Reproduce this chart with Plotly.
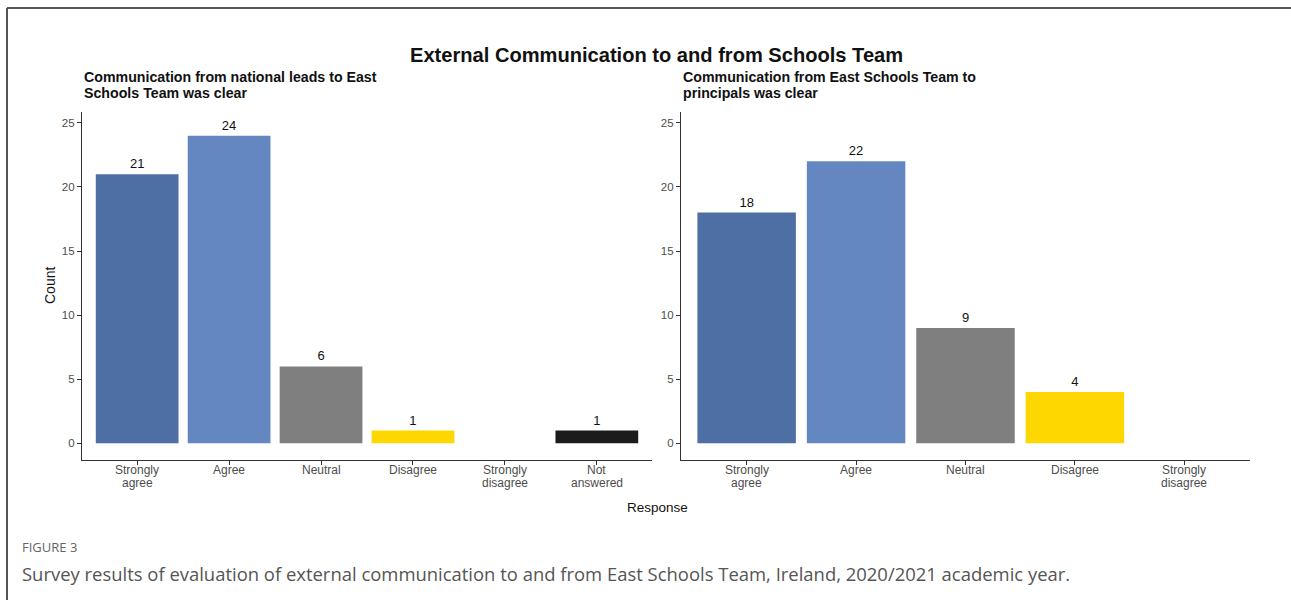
import plotly.graph_objects as go

# Survey responses (counts per answer)
categories_left = ["Strongly agree", "Agree", "Neutral", "Disagree", "Strongly disagree", "Not answered"]
counts_left = [21, 24, 6, 1, 0, 1]

categories_right = ["Strongly agree", "Agree", "Neutral", "Disagree", "Strongly disagree"]
counts_right = [18, 22, 9, 4, 0]

tick_labels_left = ["Strongly<br>agree", "Agree", "Neutral", "Disagree", "Strongly<br>disagree", "Not<br>answered"]
tick_labels_right = ["Strongly<br>agree", "Agree", "Neutral", "Disagree", "Strongly<br>disagree"]

palette = {
    "Strongly agree": "#4E6FA4",
    "Agree": "#6487C1",
    "Neutral": "#7F7F7F",
    "Disagree": "#FFD700",
    "Strongly disagree": "#8B0000",
    "Not answered": "#1C1C1C",
}

W, H = 1291, 600
FONT = "Liberation Sans, Arial, Helvetica, sans-serif"


def px_x(x):
    return x / W


def px_y(y):
    return 1 - y / H


fig = go.Figure()

for cats, vals, xa, ya in [
    (categories_left, counts_left, "x", "y"),
    (categories_right, counts_right, "x2", "y2"),
]:
    fig.add_trace(go.Bar(
        x=list(range(len(cats))),
        y=vals,
        marker=dict(color=[palette[c] for c in cats], line=dict(width=0)),
        text=[str(v) if v > 0 else "" for v in vals],
        textposition="outside",
        textfont=dict(family=FONT, size=13, color="#111111"),
        cliponaxis=False,
        xaxis=xa, yaxis=ya,
        showlegend=False,
        hoverinfo="x+y",
    ))

ydom = [px_y(460), px_y(112)]
axis_common = dict(
    showgrid=False, zeroline=False, showline=True, linecolor="#333333", linewidth=1.2,
    ticks="outside", ticklen=4, tickcolor="#333333", tickwidth=1,
    tickfont=dict(family=FONT, size=11.5, color="#4D4D4D"),
)

fig.update_layout(
    width=W, height=H,
    margin=dict(l=0, r=0, t=0, b=0),
    paper_bgcolor="white", plot_bgcolor="white",
    bargap=0.1,
    xaxis=dict(domain=[px_x(82), px_x(652)], range=[-0.6, 5.6],
               tickvals=list(range(len(categories_left))), showticklabels=False,
               anchor="y", **axis_common),
    yaxis=dict(domain=ydom, range=[-1.3, 25.85], tickvals=[0, 5, 10, 15, 20, 25],
               anchor="x", **axis_common),
    xaxis2=dict(domain=[px_x(681), px_x(1250)], range=[-0.6, 4.6],
                tickvals=list(range(len(categories_right))), showticklabels=False,
                anchor="y2", **axis_common),
    yaxis2=dict(domain=ydom, range=[-1.3, 25.85], tickvals=[0, 5, 10, 15, 20, 25],
                anchor="x2", **axis_common),
)

annotations = []

# Category labels under each x axis, with tight ggplot-style line spacing
for labels, xref in [(tick_labels_left, "x"), (tick_labels_right, "x2")]:
    for i, lab in enumerate(labels):
        for j, line in enumerate(lab.split("<br>")):
            annotations.append(dict(
                text=line, x=i, xref=xref, y=px_y(470 + 13 * j), yref="paper",
                xanchor="center", yanchor="middle",
                font=dict(family=FONT, size=12, color="#4D4D4D"),
            ))


def paper_text(text, x, y, size, color="#111111", family=FONT, xanchor="left", **kw):
    annotations.append(dict(text=text, x=px_x(x), y=px_y(y), xref="paper", yref="paper",
                            xanchor=xanchor, yanchor="middle",
                            font=dict(family=family, size=size, color=color), **kw))


paper_text("<b>External Communication to and from Schools Team</b>", 656, 55, 20.1, xanchor="center")

sub_left = ["Communication from national leads to East", "Schools Team was clear"]
sub_right = ["Communication from East Schools Team to", "principals was clear"]
for lines, x0 in [(sub_left, 82), (sub_right, 681)]:
    for j, line in enumerate(lines):
        paper_text(f"<b>{line}</b>", x0, 77 + 15.5 * j, 14.2)

paper_text("Count", 50, 286, 14, xanchor="center", textangle=-90)
paper_text("Response", 658, 507, 13.5, xanchor="center")
paper_text("FIGURE 3", 20, 547, 13, color="#666666", family="Open Sans, sans-serif")
paper_text("Survey results of evaluation of external communication to and from East Schools Team, "
           "Ireland, 2020/2021 academic year.", 20, 573, 18.45, color="#555555",
           family="Open Sans, sans-serif")

for a in annotations:
    a["showarrow"] = False
fig.update_layout(annotations=annotations)

# Frame lines around the figure panel (top and left edges)
fig.add_shape(type="line", xref="paper", yref="paper", x0=px_x(7), x1=1, y0=px_y(8), y1=px_y(8),
              line=dict(color="#555555", width=2))
fig.add_shape(type="line", xref="paper", yref="paper", x0=px_x(7), x1=px_x(7), y0=px_y(8), y1=0,
              line=dict(color="#555555", width=2))

fig.write_html("out.html")
